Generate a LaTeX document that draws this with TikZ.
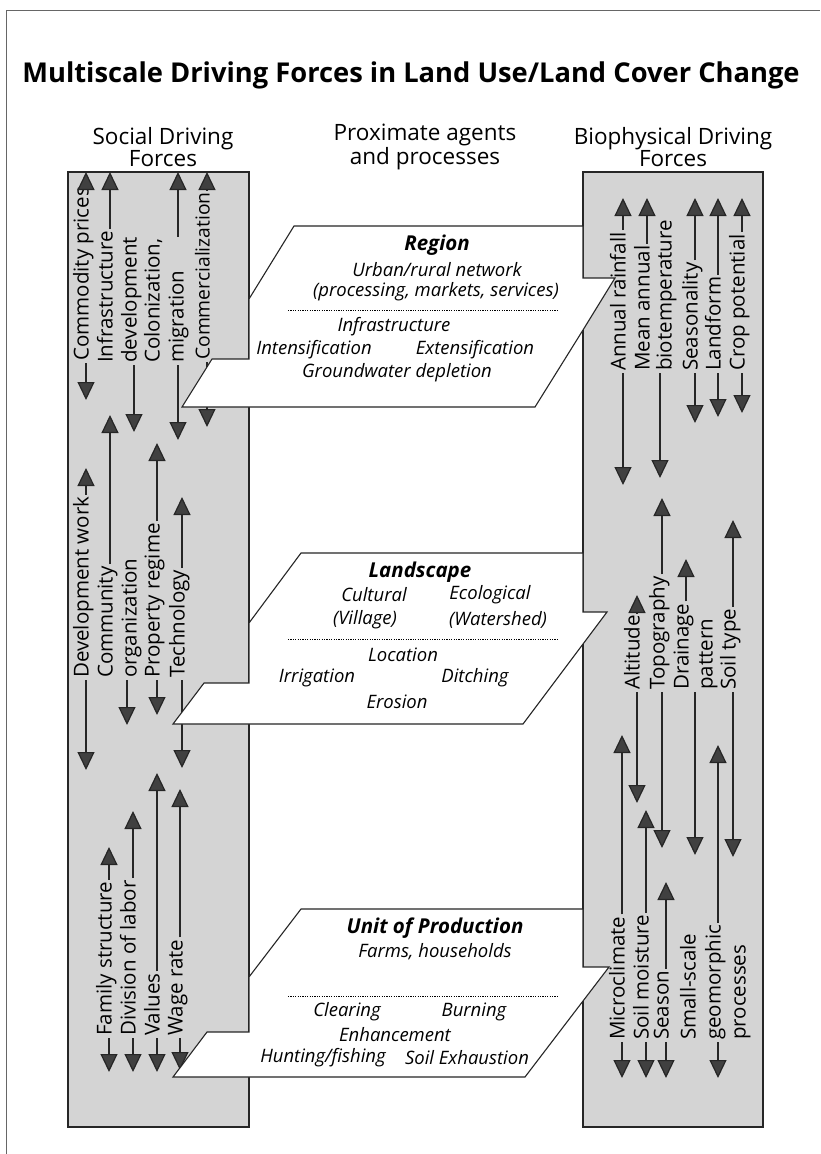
\documentclass[tikz,border=0pt]{standalone}
\usepackage{fontspec}
\setmainfont{Open Sans}
\usetikzlibrary{arrows.meta}
\tikzset{
  panel/.style={draw=black!85, line width=1.1pt, fill=black!17},
  agent/.style={draw=black!85, line width=1.1pt, fill=white},
  dbl/.style={draw=black!85, line width=1.2pt, -{Triangle[length=18pt,width=17pt,fill=black!75]}},
  lab/.style={rotate=90, anchor=west, inner sep=2pt, text height=0.75em, text depth=0.25em,
    font=\fontsize{20.5}{22}\selectfont},
  bx/.style={inner sep=1pt, font=\itshape\fontsize{18.5}{20}\selectfont},
  bxhd/.style={inner sep=1pt, font=\bfseries\itshape\fontsize{20.5}{22}\selectfont},
  sep/.style={line width=0.8pt, dash pattern=on 1.2pt off 1.2pt},
  colhd/.style={align=center, font=\fontsize{22.5}{22}\selectfont},
}

\begin{document}
\begin{tikzpicture}[x=1pt, y=-1pt]
  \useasboundingbox (0,0) rectangle (820,1154);
  \fill[white] (0,0) rectangle (820,1154);
  % Marco
  \draw[black!60, line width=0.8pt] (6,1154) -- (6,10) -- (820,10);

  % Titulo
  \node[font=\bfseries\fontsize{27.3}{29}\selectfont] (title) at (411,75)
    {Multiscale Driving Forces in Land Use/Land Cover Change};
  \node[colhd] (soc) at (163,147) {Social Driving\\Forces};
  \node[colhd] (prox) at (425,147) {Proximate agents\\and processes};
  \node[colhd] (bio) at (673,147) {Biophysical Driving\\Forces};

  % Paneles
  \draw[panel] (68,172) rectangle (249,1127);
  \draw[panel] (583,172) rectangle (763,1127);

  % Fuerzas sociales (una linea)
  \foreach \n/\x/\yb/\yu/\yd/\t in {
      cp/86/363/172/400/Commodity prices,
      dw/86/680/468/770/Development work,
      pr/157/680/443/715/Property regime,
      te/182/680/497/768/Technology,
      fs/109/1038/847/1072/Family structure,
      dl/133/1038/811/1072/Division of labor,
      va/157/1038/773/1072/Values,
      wr/180/1038/789/1070/Wage rate}
  {
    \node[lab] (\n) at (\x,\yb) {\t};
    \coordinate (\n-u) at (\x,\yu);
    \coordinate (\n-d) at (\x,\yd);
    \draw[dbl] (\n.east) -- (\n-u);
    \draw[dbl] (\n.west) -- (\n-d);
  }
  \node[lab, font=\fontsize{19.3}{21}\selectfont] (cm) at (207,362) {Commercialization};
  \coordinate (cm-u) at (207,172);
  \coordinate (cm-d) at (207,427);
  \draw[dbl] (cm.east) -- (cm-u);
  \draw[dbl] (cm.west) -- (cm-d);

  % Fuerzas sociales (dos lineas)
  \node[lab] (inf1) at (110,365) {Infrastructure};
  \node[lab] (inf2) at (134,365) {development};
  \coordinate (inf-u) at (110,172);
  \coordinate (inf-d) at (134,432);
  \draw[dbl] (inf1.east) -- (inf-u);
  \draw[dbl] (inf2.west) -- (inf-d);

  \node[lab] (col1) at (157,365) {Colonization,};
  \node[lab] (col2) at (181,365) {migration};
  \coordinate (col-u) at (178,172);
  \coordinate (col-d) at (178,440);
  \draw[dbl] (col-u |- col1.east) -- (col-u);
  \draw[dbl] (col-d |- col2.west) -- (col-d);

  \node[lab] (com1) at (110,680) {Community};
  \node[lab] (com2) at (134,680) {organization};
  \coordinate (com-u) at (110,415);
  \coordinate (com-d) at (127,725);
  \draw[dbl] (com1.east) -- (com-u);
  \draw[dbl] (com-d |- com2.west) -- (com-d);

  % Fuerzas biofisicas (una linea)
  \foreach \n/\x/\yb/\yu/\yd/\t in {
      ar/623/373/198/485/Annual rainfall,
      se/695/373/198/423/Seasonality,
      lf/718/373/198/417/Landform,
      cr/742/373/198/413/Crop potential,
      al/637/692/595/803/Altitude,
      to/662/692/498/848/Topography,
      st/733/692/520/857/Soil type,
      mc/622/1042/735/1078/Microclimate,
      sm/646/1042/810/1078/Soil moisture,
      sn/666/1042/882/1078/Season}
  {
    \node[lab] (\n) at (\x,\yb) {\t};
    \coordinate (\n-u) at (\x,\yu);
    \coordinate (\n-d) at (\x,\yd);
    \draw[dbl] (\n.east) -- (\n-u);
    \draw[dbl] (\n.west) -- (\n-d);
  }

  % Fuerzas biofisicas (varias lineas)
  \node[lab] (mea1) at (647,373) {Mean annual};
  \node[lab] (mea2) at (669,373) {biotemperature};
  \coordinate (mea-u) at (647,198);
  \coordinate (mea-d) at (660,478);
  \draw[dbl] (mea1.east) -- (mea-u);
  \draw[dbl] (mea-d |- mea2.west) -- (mea-d);

  \node[lab] (dra1) at (686,692) {Drainage};
  \node[lab] (dra2) at (710,692) {pattern};
  \coordinate (dra-u) at (686,559);
  \coordinate (dra-d) at (695,855);
  \draw[dbl] (dra1.east) -- (dra-u);
  \draw[dbl] (dra-d |- dra2.west) -- (dra-d);

  \node[lab] (ssc1) at (693,1042) {Small-scale};
  \node[lab] (ssc2) at (718,1042) {geomorphic};
  \node[lab] (ssc3) at (743,1042) {processes};
  \coordinate (ssc-u) at (718,745);
  \coordinate (ssc-d) at (718,1078);
  \draw[dbl] (ssc2.east) -- (ssc-u);
  \draw[dbl] (ssc2.west) -- (ssc-d);

  % Agentes: region
  \draw[agent] (182,407) -- (212,359) -- (249,359) -- (249,299) -- (294,226)
    -- (583,226) -- (583,278) -- (615,278) -- (583,330) -- (535,407) -- cycle;
  \draw[sep] (288,310) -- (558,310);
  \node[bxhd] (reg) at (437,245) {Region};
  \node[bx] (urb) at (437,270) {Urban/rural network};
  \node[bx] (pms) at (436,292) {(processing, markets, services)};
  \node[bx] (inf) at (394,327) {Infrastructure};
  \node[bx] (int) at (314,350) {Intensification};
  \node[bx] (ext) at (475,350) {Extensification};
  \node[bx] (gwd) at (397,373) {Groundwater depletion};

  % Agentes: paisaje
  \draw[agent] (173,724) -- (204,683) -- (249,683) -- (249,623) -- (301,553)
    -- (583,553) -- (583,612) -- (607,612) -- (583,644) -- (523,724) -- cycle;
  \draw[sep] (288,639) -- (557,639);
  \node[bxhd] (lsc) at (420,572) {Landscape};
  \node[bx] (cul) at (374,595) {Cultural};
  \node[bx] (eco) at (490,595) {Ecological};
  \node[bx] (vil) at (365,620) {(Village)};
  \node[bx] (wat) at (498,620) {(Watershed)};
  \node[bx] (loc) at (403,655) {Location};
  \node[bx] (irr) at (317,678) {Irrigation};
  \node[bx] (dit) at (475,678) {Ditching};
  \node[bx] (ero) at (397,702) {Erosion};

  % Agentes: unidad de produccion
  \draw[agent] (173,1077) -- (207,1032) -- (249,1032) -- (249,977) -- (301,909)
    -- (583,909) -- (583,967) -- (609,967) -- (583,1001) -- (525,1077) -- cycle;
  \draw[sep] (288,996) -- (557,996);
  \node[bxhd] (unit) at (435,928) {Unit of Production};
  \node[bx] (frm) at (435,952) {Farms, households};
  \node[bx] (clr) at (347,1012) {Clearing};
  \node[bx] (brn) at (474,1012) {Burning};
  \node[bx] (enh) at (395,1035) {Enhancement};
  \node[bx] (hnt) at (323,1058) {Hunting/fishing};
  \node[bx] (exh) at (467,1058) {Soil Exhaustion};
\end{tikzpicture}
\end{document}
